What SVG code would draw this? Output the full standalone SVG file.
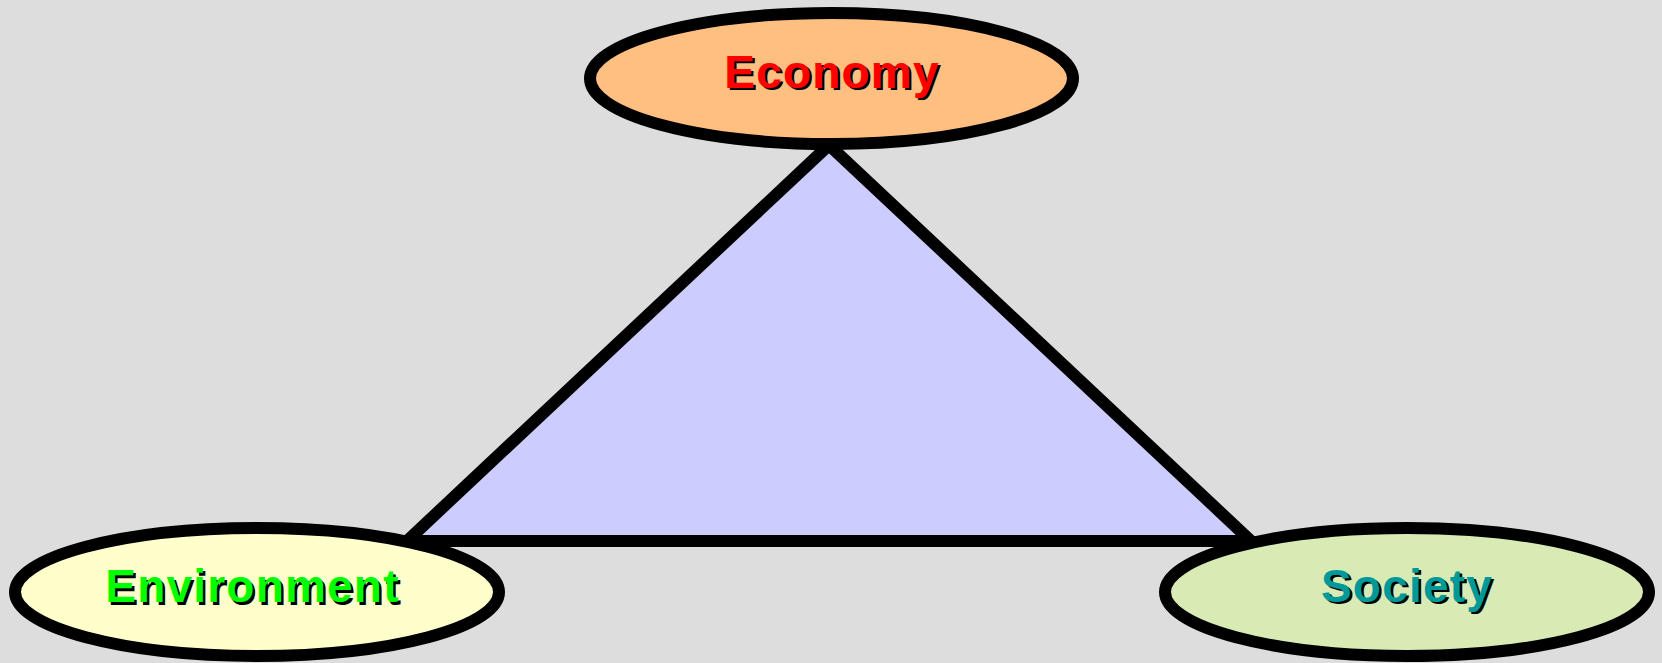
<svg xmlns="http://www.w3.org/2000/svg" width="1662" height="663" viewBox="0 0 1662 663">
  <style>
    .node { stroke: #000000; stroke-width: 12; }
    .lbl { font-family: "Liberation Sans", Arial, sans-serif; font-weight: bold; font-size: 46px; letter-spacing: 1.2px; text-anchor: middle; }
    .shadow { fill: #000000; }
  </style>
  <rect width="1662" height="663" fill="#DDDDDD"/>
  <g id="connectors">
    <polygon points="829,145 407,541 1251,541" fill="#CCCCFF" stroke="#000000" stroke-width="12" stroke-linejoin="miter"/>
  </g>
  <g id="economy">
    <ellipse class="node" cx="831.5" cy="78.5" rx="241.5" ry="65.5" fill="#FFBF80"/>
    <text class="lbl shadow" x="834.5" y="90">Economy</text>
    <text class="lbl" x="832" y="87.5" fill="#FF0000">Economy</text>
  </g>
  <g id="environment">
    <ellipse class="node" cx="257" cy="592" rx="242" ry="64" fill="#FFFFCC"/>
    <text class="lbl shadow" x="255" y="604.5">Environment</text>
    <text class="lbl" x="252.5" y="602" fill="#00FF00">Environment</text>
  </g>
  <g id="society">
    <ellipse class="node" cx="1407" cy="592" rx="242" ry="64" fill="#D9EBB4"/>
    <text class="lbl shadow" x="1409.5" y="604">Society</text>
    <text class="lbl" x="1407" y="601.5" fill="#009999">Society</text>
  </g>
</svg>
